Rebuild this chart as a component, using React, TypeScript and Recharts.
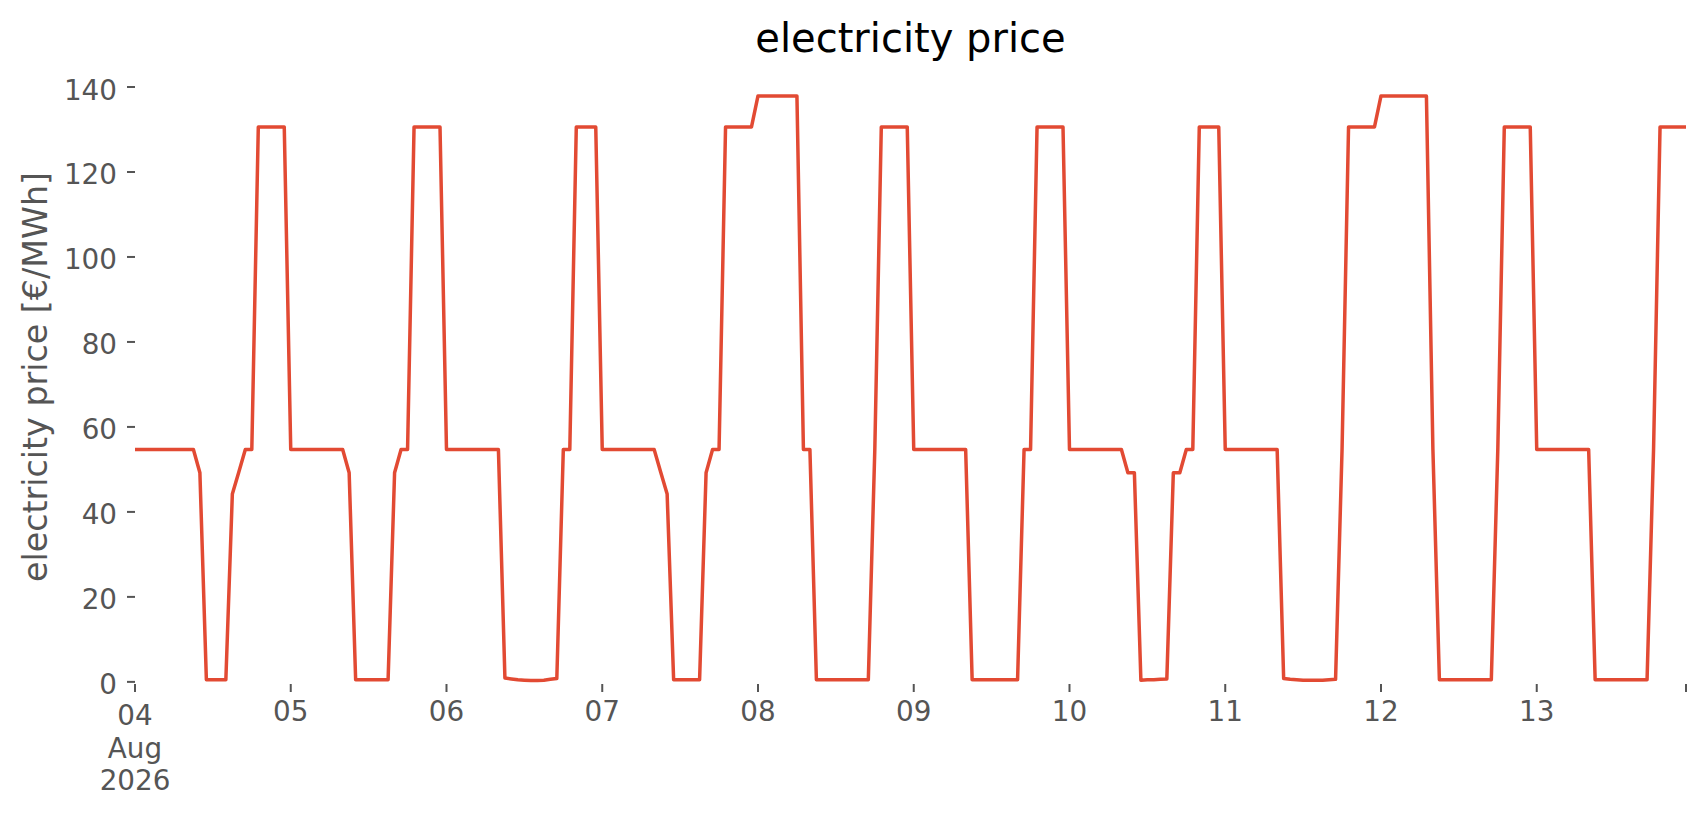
import React from "react";
import { LineChart, Line, XAxis, YAxis } from "recharts";

// Hourly electricity price [€/MWh], 04 Aug 2026 00:00 – 13 Aug 2026 23:00
const aug04 = [54.7, 54.7, 54.7, 54.7, 54.7, 54.7, 54.7, 54.7, 54.7, 54.7, 49.2, 0.5, 0.5, 0.5, 0.5, 44.2, 49.4, 54.7, 54.7, 130.6, 130.6, 130.6, 130.6, 130.6];
const aug05 = [54.7, 54.7, 54.7, 54.7, 54.7, 54.7, 54.7, 54.7, 54.7, 49.2, 0.5, 0.5, 0.5, 0.5, 0.5, 0.5, 49.2, 54.7, 54.7, 130.6, 130.6, 130.6, 130.6, 130.6];
const aug06 = [54.7, 54.7, 54.7, 54.7, 54.7, 54.7, 54.7, 54.7, 54.7, 0.9, 0.7, 0.5, 0.4, 0.3, 0.3, 0.4, 0.6, 0.8, 54.7, 54.7, 130.6, 130.6, 130.6, 130.6];
const aug07 = [54.7, 54.7, 54.7, 54.7, 54.7, 54.7, 54.7, 54.7, 54.7, 49.4, 44.2, 0.5, 0.5, 0.5, 0.5, 0.5, 49.2, 54.7, 54.7, 130.6, 130.6, 130.6, 130.6, 130.6];
const aug08 = [137.9, 137.9, 137.9, 137.9, 137.9, 137.9, 137.9, 54.7, 54.7, 0.5, 0.5, 0.5, 0.5, 0.5, 0.5, 0.5, 0.5, 0.5, 54.7, 130.6, 130.6, 130.6, 130.6, 130.6];
const aug09 = [54.7, 54.7, 54.7, 54.7, 54.7, 54.7, 54.7, 54.7, 54.7, 0.5, 0.5, 0.5, 0.5, 0.5, 0.5, 0.5, 0.5, 54.7, 54.7, 130.6, 130.6, 130.6, 130.6, 130.6];
const aug10 = [54.7, 54.7, 54.7, 54.7, 54.7, 54.7, 54.7, 54.7, 54.7, 49.2, 49.2, 0.4, 0.5, 0.5, 0.6, 0.7, 49.2, 49.2, 54.7, 54.7, 130.6, 130.6, 130.6, 130.6];
const aug11 = [54.7, 54.7, 54.7, 54.7, 54.7, 54.7, 54.7, 54.7, 54.7, 0.8, 0.6, 0.5, 0.4, 0.4, 0.4, 0.4, 0.5, 0.6, 54.7, 130.6, 130.6, 130.6, 130.6, 130.6];
const aug12 = [137.9, 137.9, 137.9, 137.9, 137.9, 137.9, 137.9, 137.9, 54.7, 0.5, 0.5, 0.5, 0.5, 0.5, 0.5, 0.5, 0.5, 0.5, 54.7, 130.6, 130.6, 130.6, 130.6, 130.6];
const aug13 = [54.7, 54.7, 54.7, 54.7, 54.7, 54.7, 54.7, 54.7, 54.7, 0.5, 0.5, 0.5, 0.5, 0.5, 0.5, 0.5, 0.5, 0.5, 54.7, 130.6, 130.6, 130.6, 130.6, 130.6];

const days = [aug04, aug05, aug06, aug07, aug08, aug09, aug10, aug11, aug12, aug13];

const xTickValues = [0, 24, 48, 72, 96, 120, 144, 168, 192, 216, 239];
const xTickLabels = ["04\nAug\n2026", "05", "06", "07", "08", "09", "10", "11", "12", "13", ""];
const yTickValues = [0, 20, 40, 60, 80, 100, 120, 140];

const title = "electricity price";
const yLabel = "electricity price [€/MWh]";

const data = days.flat().map((price, h) => ({ h, price }));

const FONT = "DejaVu Sans";
const GREY = "#555555";

const XTick = (props: any) => {
  const { x, y, payload } = props;
  const idx = xTickValues.indexOf(payload.value);
  const label = idx >= 0 ? xTickLabels[idx] : "";
  const lines = label.split("\n");
  const multi = lines.length > 1;
  return (
    <g>
      {lines.map((ln: string, i: number) => (
        <text
          key={i}
          x={x}
          y={y + (multi ? 33 + i * 32.5 : 29)}
          textAnchor="middle"
          fontFamily={FONT}
          fontSize={27.8}
          fill={GREY}
        >
          {ln}
        </text>
      ))}
    </g>
  );
};

const YTick = (props: any) => {
  const { y, payload } = props;
  return (
    <text
      x={117}
      y={y + 12.5}
      textAnchor="end"
      fontFamily={FONT}
      fontSize={27.8}
      fill={GREY}
    >
      {String(payload.value)}
    </text>
  );
};

export default function App() {
  return (
    <div style={{ position: "absolute", left: 0, top: 0, width: 1706, height: 815, background: "#fff", overflow: "hidden" }}>
      <LineChart
        width={1706}
        height={815}
        data={data}
        margin={{ top: 87, right: 20, bottom: 71, left: 0 }}
      >
        <XAxis
          dataKey="h"
          type="number"
          domain={[0, 239]}
          ticks={xTickValues}
          allowDataOverflow
          axisLine={false}
          tickLine={{ stroke: GREY, strokeWidth: 2 }}
          tickSize={8}
          tickMargin={0}
          height={60}
          tick={<XTick />}
          interval={0}
        />
        <YAxis
          type="number"
          domain={[-0.5, 140]}
          ticks={yTickValues}
          allowDataOverflow
          axisLine={false}
          tickLine={{ stroke: GREY, strokeWidth: 2 }}
          tickSize={8}
          width={135}
          tick={<YTick />}
          interval={0}
        />
        <Line
          type="linear"
          dataKey="price"
          stroke="#E24A33"
          strokeWidth={3.5}
          strokeLinejoin="round"
          dot={false}
          activeDot={false}
          isAnimationActive={false}
        />
      </LineChart>
      <svg
        width={1706}
        height={815}
        style={{ position: "absolute", left: 0, top: 0, pointerEvents: "none" }}
      >
        <text x={910.5} y={51.5} textAnchor="middle" fontFamily={FONT} fontSize={40} fill="#000">
          {title}
        </text>
        <text
          transform="translate(46.7,377) rotate(-90)"
          textAnchor="middle"
          fontFamily={FONT}
          fontSize={33.3}
          fill={GREY}
        >
          {yLabel}
        </text>
      </svg>
    </div>
  );
}
